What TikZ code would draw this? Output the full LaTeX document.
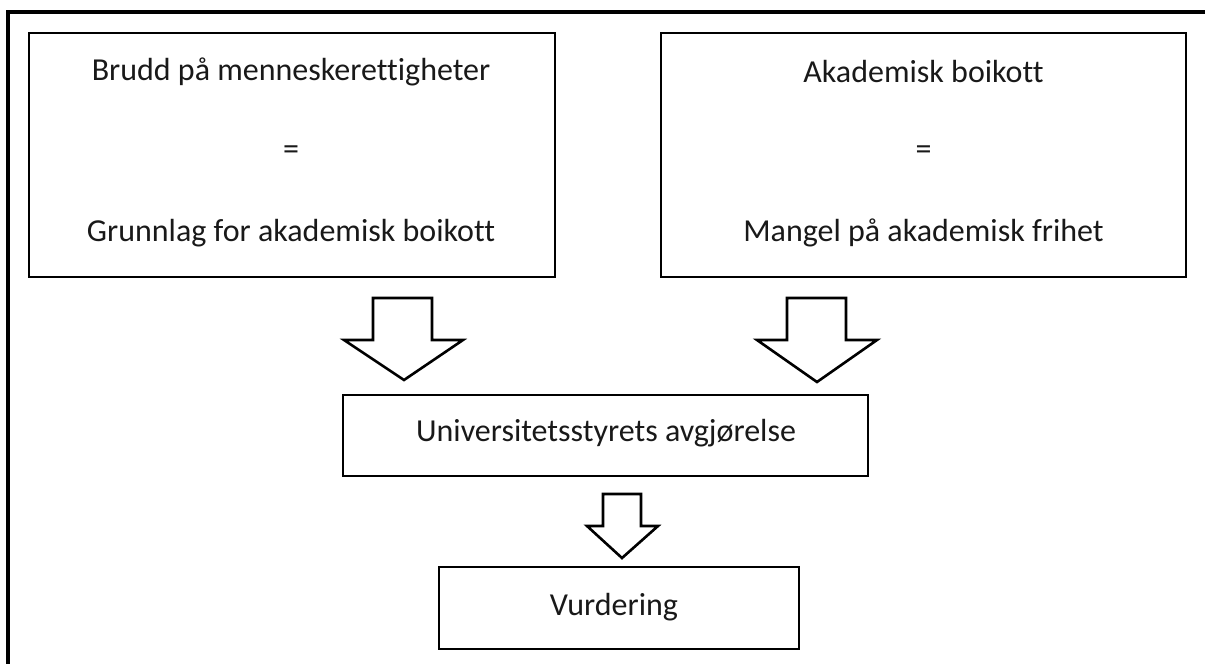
\documentclass[tikz,border=0pt]{standalone}
\usepackage{fontspec}
\setmainfont{Carlito}[RawFeature={-liga;-calt;-clig;-dlig}]
\begin{document}
\begin{tikzpicture}[x=1pt,y=-1pt,
  box/.style={draw=black,line width=2.2pt,rectangle,inner sep=0pt},
  txt/.style={inner sep=0pt,font=\fontsize{32}{38}\selectfont,text=black!90},
  blockarrow/.style={draw=black,line width=2.6pt,fill=white,line join=miter}]
\useasboundingbox (0,0) rectangle (1205,664);
% outer frame (open on right and bottom)
\draw[line width=3.5pt] (8,664) -- (8,12) -- (1205,12);
% boxes
\node[box,minimum width=526pt,minimum height=244pt] (b1) at (292,155) {};
\node[box,minimum width=525pt,minimum height=244pt] (b2) at (923.5,155) {};
\node[box,minimum width=525pt,minimum height=81pt] (mid) at (605.5,435.5) {};
\node[box,minimum width=360pt,minimum height=82pt] (vur) at (619,608) {};
% texts
\node[txt] (t11) at (291,72) {Brudd på menneskerettigheter};
\node[txt] (t12) at (291,153) {=};
\node[txt] (t13) at (291,233) {Grunnlag for akademisk boikott};
\node[txt] (t21) at (923.5,72) {Akademisk boikott};
\node[txt] (t22) at (923.5,153) {=};
\node[txt] (t23) at (923.5,233) {Mangel på akademisk frihet};
\node[txt] (tm) at (606,433) {Universitetsstyrets avgjørelse};
\node[txt] (tv) at (614,607) {Vurdering};
% block arrows
\draw[blockarrow] (373,298) -- (432,298) -- (432,340) -- (463,340) -- (404,380) -- (344,340) -- (373,340) -- cycle;
\draw[blockarrow] (787,298) -- (846,298) -- (846,340) -- (877,340) -- (817,382) -- (757,340) -- (787,340) -- cycle;
\draw[blockarrow] (603,494) -- (641,494) -- (641,526) -- (658,526) -- (622,558) -- (587,526) -- (603,526) -- cycle;
\end{tikzpicture}
\end{document}
